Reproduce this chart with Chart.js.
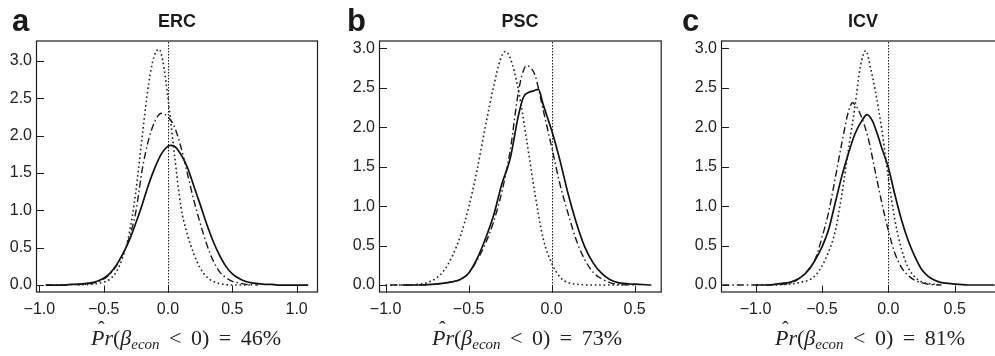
<!DOCTYPE html>
<html>
<head>
<meta charset="utf-8">
<script src="https://cdn.jsdelivr.net/npm/chart.js@4.4.1/dist/chart.umd.min.js"></script>
<style>
  html,body{margin:0;padding:0;background:#fff;width:995px;height:356px;overflow:hidden;}
  #wrap{position:relative;width:995px;height:356px;overflow:hidden;}
  canvas{position:absolute;top:0;}
  .lt{position:absolute;font-family:"Liberation Sans",Arial,sans-serif;font-weight:bold;font-size:31px;line-height:31px;color:#1a1a1a;}
  .tt{position:absolute;font-family:"Liberation Sans",Arial,sans-serif;font-weight:bold;font-size:18px;line-height:18px;color:#1a1a1a;transform:translateX(-50%);white-space:nowrap;}
  .fx{position:absolute;top:326px;font-family:"Liberation Serif","DejaVu Serif",serif;font-size:22px;line-height:24px;color:#222;transform:translateX(-50%);white-space:nowrap;}
  .fx sub{font-size:15px;vertical-align:-4px;line-height:0;}
  .ph{position:relative;display:inline-block;}
  .hat{position:absolute;left:7px;top:-9px;font-style:normal;font-size:20px;}
  .sp{display:inline-block;width:4px;}
</style>
</head>
<body>
<div id="wrap">
  <canvas id="cA" width="330" height="356" style="left:0px"></canvas>
  <canvas id="cB" width="330" height="356" style="left:340px"></canvas>
  <canvas id="cC" width="330" height="356" style="left:680px"></canvas>

  <div class="lt" style="left:12px;top:5px">a</div>
  <div class="lt" style="left:347px;top:5px">b</div>
  <div class="lt" style="left:682px;top:5px">c</div>

  <div class="tt" style="left:177px;top:12px">ERC</div>
  <div class="tt" style="left:520px;top:12px">PSC</div>
  <div class="tt" style="left:863px;top:12px">ICV</div>

  <div class="fx" style="left:186px"><span class="ph"><i>P</i><span class="hat">ˆ</span></span><i>r</i>(<i>β</i><sub><i>econ</i></sub><span class="sp"></span> &lt; <span class="sp"></span>0)<span class="sp"></span> = <span class="sp"></span>46%</div>
  <div class="fx" style="left:527px"><span class="ph"><i>P</i><span class="hat">ˆ</span></span><i>r</i>(<i>β</i><sub><i>econ</i></sub><span class="sp"></span> &lt; <span class="sp"></span>0)<span class="sp"></span> = <span class="sp"></span>73%</div>
  <div class="fx" style="left:870px"><span class="ph"><i>P</i><span class="hat">ˆ</span></span><i>r</i>(<i>β</i><sub><i>econ</i></sub><span class="sp"></span> &lt; <span class="sp"></span>0)<span class="sp"></span> = <span class="sp"></span>81%</div>
</div>
<script>
// ---------- tick labels ----------
const yTicks = [0, 0.5, 1.0, 1.5, 2.0, 2.5, 3.0];
const ercXTicks = [-1.0, -0.5, 0.0, 0.5, 1.0];
const pscXTicks = [-1.0, -0.5, 0.0, 0.5];
const icvXTicks = [-1.0, -0.5, 0.0, 0.5];
const refLineX = 0;

// ---------- panel a : ERC ----------
const ercSolidX = [-0.95,-0.90,-0.85,-0.80,-0.75,-0.70,-0.65,-0.60,-0.55,-0.50,-0.45,-0.40,-0.35,-0.30,-0.25,-0.20,-0.15,-0.10,-0.05,0.00,0.02,0.05,0.10,0.15,0.20,0.25,0.30,0.35,0.40,0.45,0.50,0.55,0.60,0.65,0.70,0.75,0.80,0.85,0.95,1.09];
const ercSolidY = [0.00,0.00,0.00,0.00,0.01,0.01,0.02,0.03,0.05,0.09,0.16,0.27,0.42,0.60,0.83,1.08,1.35,1.58,1.76,1.86,1.87,1.86,1.75,1.58,1.33,1.08,0.82,0.59,0.40,0.25,0.15,0.09,0.05,0.03,0.02,0.01,0.01,0.00,0.00,0.00];
const ercDashX = [-0.95,-0.80,-0.70,-0.65,-0.60,-0.55,-0.50,-0.45,-0.40,-0.35,-0.30,-0.25,-0.20,-0.15,-0.10,-0.05,0.00,0.05,0.10,0.15,0.20,0.25,0.30,0.35,0.40,0.45,0.50,0.55,0.60,0.70];
const ercDashY = [0.00,0.00,0.01,0.01,0.02,0.04,0.08,0.15,0.26,0.42,0.64,0.98,1.55,1.95,2.20,2.30,2.25,2.12,1.85,1.50,1.14,0.83,0.55,0.33,0.18,0.10,0.05,0.03,0.01,0.00];
const ercDotX = [-0.70,-0.60,-0.50,-0.45,-0.40,-0.35,-0.30,-0.25,-0.20,-0.15,-0.11,-0.07,-0.04,0.00,0.05,0.10,0.15,0.20,0.25,0.30,0.35,0.40,0.50,0.65];
const ercDotY = [0.00,0.01,0.04,0.08,0.18,0.38,0.70,1.25,2.00,2.70,3.05,3.16,3.00,2.50,1.75,1.05,0.68,0.42,0.23,0.11,0.05,0.02,0.00,0.00];

// ---------- panel b : PSC ----------
const pscSolidX = [-0.90,-0.80,-0.70,-0.60,-0.55,-0.50,-0.45,-0.40,-0.35,-0.30,-0.25,-0.20,-0.17,-0.14,-0.11,-0.08,-0.05,0.00,0.05,0.10,0.15,0.20,0.25,0.30,0.35,0.40,0.50,0.60];
const pscSolidY = [0.00,0.00,0.01,0.04,0.07,0.15,0.33,0.58,0.88,1.28,1.60,2.15,2.38,2.44,2.46,2.48,2.28,1.96,1.58,1.15,0.78,0.48,0.28,0.15,0.07,0.03,0.01,0.00];
const pscDashX = [-0.97,-0.80,-0.70,-0.60,-0.55,-0.50,-0.45,-0.40,-0.35,-0.30,-0.25,-0.20,-0.17,-0.15,-0.12,-0.10,-0.05,0.00,0.05,0.10,0.15,0.20,0.25,0.30,0.35,0.40,0.50];
const pscDashY = [0.00,0.00,0.01,0.04,0.07,0.15,0.31,0.52,0.80,1.18,1.70,2.45,2.72,2.78,2.74,2.66,2.21,1.75,1.28,0.90,0.56,0.32,0.16,0.08,0.03,0.01,0.00];
const pscDotX = [-1.00,-0.85,-0.80,-0.75,-0.70,-0.65,-0.60,-0.55,-0.50,-0.45,-0.40,-0.35,-0.31,-0.28,-0.25,-0.20,-0.15,-0.10,-0.05,0.00,0.05,0.10,0.15,0.25,0.45];
const pscDotY = [0.00,0.00,0.01,0.03,0.08,0.18,0.36,0.62,0.98,1.45,2.00,2.51,2.85,2.96,2.88,2.47,1.83,1.15,0.58,0.28,0.10,0.03,0.01,0.00,0.00];

// ---------- panel c : ICV ----------
const icvSolidX = [-1.00,-0.90,-0.85,-0.80,-0.75,-0.70,-0.65,-0.60,-0.55,-0.50,-0.45,-0.40,-0.35,-0.30,-0.25,-0.20,-0.16,-0.12,-0.08,-0.05,0.00,0.05,0.10,0.15,0.20,0.25,0.30,0.35,0.40,0.45,0.50,0.60,0.80];
const icvSolidY = [0.00,0.00,0.01,0.02,0.03,0.06,0.11,0.19,0.32,0.48,0.70,1.04,1.38,1.67,1.92,2.08,2.16,2.08,1.90,1.74,1.49,1.14,0.82,0.56,0.36,0.20,0.11,0.06,0.03,0.02,0.01,0.00,0.00];
const icvDashX = [-1.25,-0.90,-0.80,-0.75,-0.70,-0.65,-0.60,-0.55,-0.50,-0.45,-0.40,-0.35,-0.30,-0.27,-0.24,-0.20,-0.15,-0.10,-0.05,0.00,0.05,0.10,0.15,0.20,0.25,0.30,0.40];
const icvDashY = [0.00,0.00,0.01,0.02,0.05,0.11,0.20,0.33,0.60,0.92,1.35,1.80,2.20,2.31,2.26,2.12,1.85,1.45,1.05,0.69,0.40,0.22,0.12,0.06,0.03,0.01,0.00];
const icvDotX = [-0.85,-0.75,-0.70,-0.65,-0.60,-0.55,-0.50,-0.45,-0.40,-0.35,-0.30,-0.25,-0.21,-0.17,-0.13,-0.10,-0.05,0.00,0.05,0.10,0.15,0.20,0.25,0.30,0.40];
const icvDotY = [0.00,0.01,0.02,0.04,0.06,0.12,0.24,0.42,0.68,1.15,1.72,2.28,2.77,2.97,2.72,2.48,1.98,1.36,0.82,0.45,0.22,0.10,0.04,0.02,0.00];

// ---------- drawing helpers ----------
const INK = '#1c1c1c';
const pts = (xs, ys) => xs.map((x, i) => ({x: x, y: ys[i]}));
const fmt = v => (v < 0 ? '\u2212' : '') + Math.abs(v).toFixed(1);

const framePlugin = {
  id: 'frame',
  beforeDatasetsDraw(chart) {
    const {ctx, chartArea: a, scales: {x}} = chart;
    const px = Math.round(x.getPixelForValue(refLineX)) + 0.5;
    ctx.save();
    ctx.strokeStyle = INK; ctx.lineWidth = 1; ctx.setLineDash([1.5, 1.5]);
    ctx.beginPath(); ctx.moveTo(px, a.bottom); ctx.lineTo(px, a.top); ctx.stroke();
    ctx.restore();
  },
  afterDraw(chart) {
    const {ctx, chartArea: a, scales: {x, y}} = chart;
    ctx.save();
    ctx.strokeStyle = INK; ctx.lineWidth = 1.2; ctx.setLineDash([]);
    ctx.strokeRect(a.left + 0.5, a.top + 0.5, a.right - a.left - 1, a.bottom - a.top - 1);
    ctx.lineWidth = 1;
    ctx.beginPath();
    x.ticks.forEach(t => {
      const p = Math.round(x.getPixelForValue(t.value)) + 0.5;
      ctx.moveTo(p, a.bottom); ctx.lineTo(p, a.bottom - 7);
    });
    y.ticks.forEach(t => {
      const p = Math.round(y.getPixelForValue(t.value)) + 0.5;
      ctx.moveTo(a.left, p); ctx.lineTo(a.left + 8, p);
    });
    ctx.stroke();
    ctx.restore();
  }
};

function panel(id, sX, sY, dX, dY, oX, oY, xTicks, xMin, xMax, yMin, yMax, yAxisW, padR) {
  new Chart(document.getElementById(id), {
    type: 'line',
    data: {
      datasets: [
        {data: pts(oX, oY), borderColor: '#222', borderWidth: 1.6, borderDash: [1.6, 2.8], pointRadius: 0, cubicInterpolationMode: 'monotone', fill: false},
        {data: pts(dX, dY), borderColor: '#1a1a1a', borderWidth: 1.4, borderDash: [7, 3, 1.5, 3], pointRadius: 0, cubicInterpolationMode: 'monotone', fill: false},
        {data: pts(sX, sY), borderColor: '#111', borderWidth: 1.7, pointRadius: 0, cubicInterpolationMode: 'monotone', fill: false}
      ]
    },
    options: {
      responsive: false, animation: false, devicePixelRatio: 1,
      layout: {padding: {left: 0, right: padR, top: 40.5, bottom: 33.5}},
      plugins: {legend: {display: false}, tooltip: {enabled: false}, title: {display: false}},
      scales: {
        x: {
          type: 'linear', min: xMin, max: xMax,
          afterBuildTicks: s => { s.ticks = xTicks.map(v => ({value: v})); },
          afterFit: s => { s.height = 30; },
          grid: {display: false, drawTicks: false}, border: {display: false},
          ticks: {autoSkip: false, maxRotation: 0, padding: 7, color: '#222', font: {family: '"Liberation Sans", Arial, sans-serif', size: 16}, callback: v => fmt(v)}
        },
        y: {
          type: 'linear', min: yMin, max: yMax,
          afterBuildTicks: s => { s.ticks = yTicks.map(v => ({value: v})); },
          afterFit: s => { s.width = yAxisW; },
          grid: {display: false, drawTicks: false}, border: {display: false},
          ticks: {autoSkip: false, padding: 4, color: '#222', font: {family: '"Liberation Sans", Arial, sans-serif', size: 16}, callback: v => v.toFixed(1)}
        }
      }
    },
    plugins: [framePlugin]
  });
}

panel('cA', ercSolidX, ercSolidY, ercDashX, ercDashY, ercDotX, ercDotY, ercXTicks, -1.026, 1.166, -0.100, 3.275, 36, 12);
panel('cB', pscSolidX, pscSolidY, pscDashX, pscDashY, pscDotX, pscDotY, pscXTicks, -1.040, 0.663, -0.095, 3.099, 39, 8.3);
panel('cC', icvSolidX, icvSolidY, icvDashX, icvDashY, icvDotX, icvDotY, icvXTicks, -1.260, 0.841, -0.095, 3.099, 41, 10);
</script>
</body>
</html>
